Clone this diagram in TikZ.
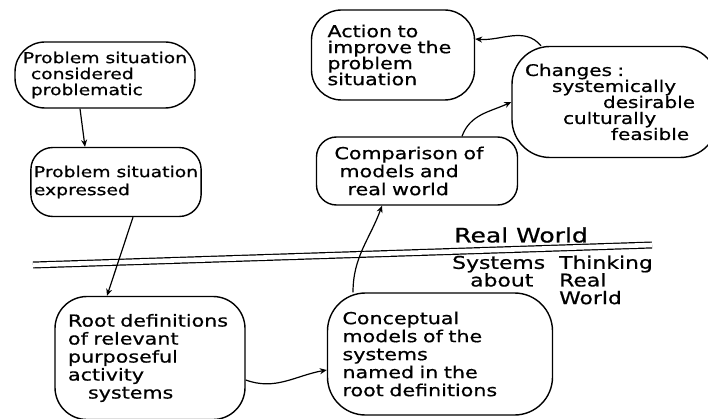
\documentclass[tikz,border=0pt]{standalone}
\usepackage{fontspec}
\setmainfont{DejaVu Sans}[FakeStretch=1.25, FakeBold=0.7]
\usetikzlibrary{arrows.meta, positioning}

\begin{document}
\begin{tikzpicture}[
    x=1pt, y=1pt,
    blob/.style={rectangle, draw=black, line width=1.4pt, rounded corners=26pt,
                 align=left, font=\fontsize{15}{16}\selectfont, inner sep=3pt},
    wide/.style={font=\fontsize{16.5}{18}\selectfont},
    lbl/.style={inner sep=0pt, align=left},
    arr/.style={-{Stealth[length=7pt, width=6pt]}, line width=1.2pt},
    divider/.style={double, double distance=4.6pt, line width=1.2pt}
  ]

  \path[use as bounding box, clip] (0,0) rectangle (708,418);

  % real world side
  \node[blob, minimum width=180pt, minimum height=66pt, rounded corners=30pt]
    (considered) at (105,343)
    {Problem situation\\\hspace*{8pt}considered\\\hspace*{8pt}problematic};
  \node[blob, minimum width=167pt, minimum height=69pt, rounded corners=22pt,
        font=\fontsize{15}{18}\selectfont]
    (expressed) at (116,236) {Problem situation\\expressed};
  \node[blob, wide, minimum height=68pt, rounded corners=20pt,
        inner xsep=18pt, text width=165pt]
    (compare) at (417,247)
    {Comparison of\\\hspace*{5pt}models and\\\hspace*{13pt}real world};
  \node[blob, wide, minimum height=90pt, rounded corners=30pt,
        inner xsep=16pt, text width=131pt, font=\fontsize{16.5}{16}\selectfont]
    (action) at (393,363) {Action to\\improve the\\problem\\situation};
  \node[blob, wide, minimum height=111pt, rounded corners=38pt,
        inner xsep=13pt, text width=180pt, font=\fontsize{16}{16}\selectfont]
    (changes) at (615,316)
    {Changes :\\\hspace*{27pt}systemically\\\hspace*{78pt}desirable\\
     \hspace*{38pt}culturally\\\hspace*{86pt}feasible};

  % systems thinking side
  \node[blob, wide, minimum height=123pt, rounded corners=32pt,
        inner xsep=13pt, text width=164pt]
    (rootdef) at (150,60)
    {Root definitions\\of relevant\\purposeful\\activity\\\hspace*{20pt}systems};
  \node[blob, wide, minimum height=122pt, rounded corners=38pt,
        inner xsep=15pt, text width=195pt]
    (concept) at (440,64)
    {Conceptual\\models of the\\systems\\named in the\\root definitions};

  % dividing line
  \coordinate (wl) at (33,153);
  \coordinate (wr) at (652,173);
  \draw[divider] (wl) -- (wr);
  \node[lbl, font=\fontsize{20}{20}\selectfont] (realw) at (521,183) {Real World};
  \node[lbl, anchor=west, font=\fontsize{17.5}{14.5}\selectfont] (systw) at (452,136)
    {\begin{tabular}{@{}l@{\hspace{14pt}}l@{}}
       Systems & Thinking\\
       \hspace*{18pt}about & Real\\
       & World
     \end{tabular}};

  \draw[arr] ([xshift=-25pt]considered.south) -- ([xshift=-31pt]expressed.north);
  \draw[arr] ([xshift=17pt]expressed.south) -- ([xshift=-43pt]rootdef.north);
  \draw[arr] ([yshift=-22pt]rootdef.east) to[out=-20, in=190] ([yshift=-16pt]concept.west);
  \draw[arr] ([xshift=-87pt]concept.north) to[out=90, in=-110] ([xshift=-35pt]compare.south);
  \draw[arr] ([xshift=45pt]compare.north) to[out=70, in=205] (changes.west);
  \draw[arr] ([xshift=-74pt]changes.north) to[out=130, in=-5] ([yshift=16pt]action.east);

\end{tikzpicture}
\end{document}
